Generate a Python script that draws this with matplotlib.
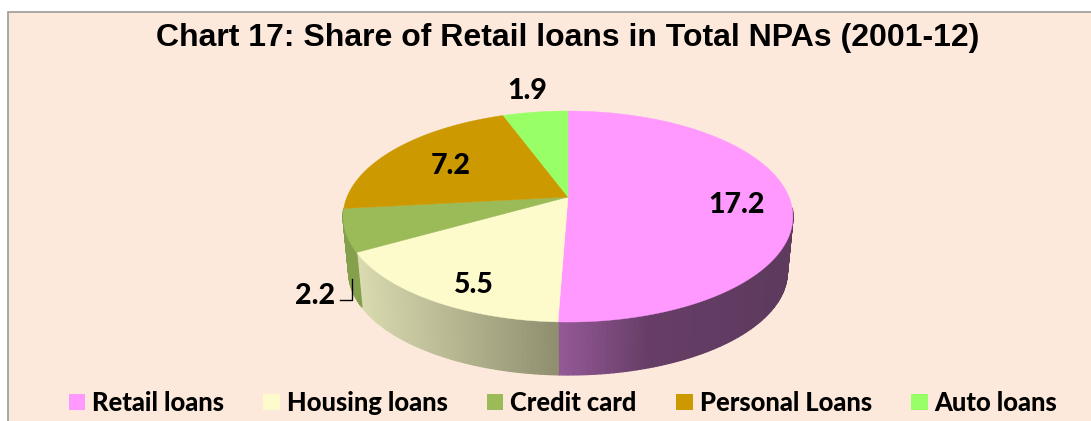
import matplotlib
matplotlib.use('Agg')
import matplotlib.pyplot as plt
from matplotlib.patches import Patch, Rectangle
from matplotlib.colors import to_rgb
import numpy as np

# Data
categories = ['Retail loans', 'Housing loans', 'Credit card', 'Personal Loans', 'Auto loans']
values = [17.2, 5.5, 2.2, 7.2, 1.9]
title = 'Chart 17: Share of Retail loans in Total NPAs (2001-12)'

colors = ['#ff99ff', '#fdfbcc', '#9bbb59', '#cc9900', '#99ff66']
bg = '#fde9db'

# Perspective of the pie, in pixels
cx, cy = 568, 197
k, a, c = 221, 101.9, 0.185
drop, shrink = 56, 0.975


def project(theta):
    # theta clockwise from the top, degrees
    t = np.radians(theta)
    w = 1 + c * np.cos(t)
    return k * np.sin(t) / w, a * np.cos(t) / w


def wall_color(i, x):
    # side shading per slice, depends on pixel x
    if i == 0:
        stops = [557, 650, 790]
        cols = ['#955a98', '#663d66', '#5e3a5e']
    elif i == 1:
        stops = [358, 557]
        cols = ['#dadab0', '#8f8f70']
    else:
        stops = [340, 360]
        cols = ['#85a04c', '#85a04c']
    rgb = np.array([to_rgb(s) for s in cols])
    return [np.interp(x, stops, rgb[:, j]) for j in range(3)]


fig = plt.figure(figsize=(10.91, 4.21), dpi=100, facecolor='white')
ax = fig.add_axes([0, 0, 1, 1])
ax.set_xlim(0, 1091)
ax.set_ylim(421, 0)
ax.axis('off')

# background panel
ax.add_patch(Rectangle((8, 12), 1090, 420, fc=bg, ec='#9a9a9a', lw=1.2, zorder=0))

edges = np.concatenate([[0], np.cumsum(values)]) / sum(values) * 360

# side walls
for i, (start, end) in enumerate(zip(edges[:-1], edges[1:])):
    if i > 2:
        continue
    th = np.arange(max(start, 96), end, 1.0)
    th = np.append(th, end)
    for t0, t1 in zip(th[:-1], th[1:]):
        x0, v0 = project(t0)
        x1, v1 = project(t1)
        xs = [cx + x0, cx + x1, cx + x1 * shrink, cx + x0 * shrink]
        ys = [cy - v0, cy - v1, cy - v1 * shrink + drop, cy - v0 * shrink + drop]
        col = wall_color(i, cx + (x0 + x1) / 2)
        ax.fill(xs, ys, fc=col, ec=col, lw=1.0, zorder=1)

# top of the pie
for i, (start, end) in enumerate(zip(edges[:-1], edges[1:])):
    th = np.linspace(start, end, 200)
    x, v = project(th)
    ax.fill(np.r_[cx, cx + x], np.r_[cy, cy - v], fc=colors[i], ec=colors[i], lw=0.3, zorder=2)

# labels
label_font = ['Lato', 'DejaVu Sans']
label_pos = [(737, 205), (474, 285), (315, 296), (451, 166), (527, 91)]
for val, (lx, ly) in zip(values, label_pos):
    ax.text(lx, ly, '%.1f' % val, ha='center', va='center', fontsize=20.5,
            fontweight=900, family=label_font, color='black', zorder=3)
ax.plot([340, 352, 352], [300, 300, 279], color='black', lw=1, zorder=3)

ax.text(568, 38, title, ha='center', va='center', fontsize=23, fontweight='bold',
        family='Liberation Sans', color='black', zorder=3)

handles = [Patch(fc=col, ec='none') for col in colors]
leg = ax.legend(handles, categories, ncol=5, loc='center', bbox_to_anchor=(563 / 1091, 1 - 403 / 421),
                frameon=False, prop={'family': 'Lato', 'weight': 900, 'size': 18.4},
                handlelength=0.63, handleheight=0.63, handletextpad=0.28, columnspacing=1.55,
                borderpad=0, borderaxespad=0)

fig.savefig('out.png', dpi=100)
